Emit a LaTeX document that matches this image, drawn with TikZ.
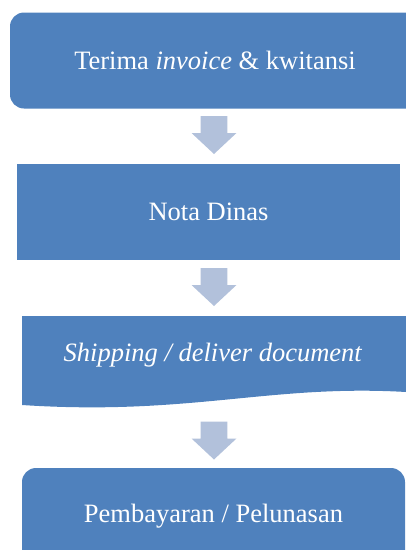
\documentclass[tikz,border=0pt]{standalone}
\usepackage{fontspec}
\setmainfont{Liberation Serif}
\usepackage{xcolor}
\usepackage{tikz}
\usetikzlibrary{positioning, calc}

\definecolor{boxblue}{HTML}{4F81BD}
\definecolor{arrowblue}{HTML}{B2C1DB}

% panah blok ke bawah, berpusat di koordinat #1
\newcommand{\blockarrow}[1]{%
  \fill[arrowblue] ($(#1)+(-13.3,-19)$) -- ($(#1)+(13.3,-19)$) -- ($(#1)+(13.3,-2)$)
    -- ($(#1)+(22.5,-2)$) -- ($(#1)+(0,19)$) -- ($(#1)+(-22.5,-2)$)
    -- ($(#1)+(-13.3,-2)$) -- cycle;}

\begin{document}
\begin{tikzpicture}[
    x=1pt, y=-1pt,
    every node/.style={inner sep=0pt, align=center, text=white, font=\fontsize{26.5}{30}\selectfont},
    stepbox/.style={fill=boxblue, minimum height=96pt},
    roundbox/.style={stepbox, rounded corners=14pt}
]
\useasboundingbox (0,0) rectangle (406,550);

% langkah-langkah
\node[roundbox, minimum width=410pt] (terima) at (215,60.5) {Terima \textit{invoice} \& kwitansi};
\node[stepbox, minimum width=383pt] (nota) at (208.5,212) {Nota Dinas};
\fill[boxblue] (22,316) -- (406,316) -- (406,392)
    .. controls (270,384) and (190,416) .. (22,405) -- cycle;
\node (ship) at (213,355.5) {\textit{Shipping / deliver document}};
\node[roundbox, minimum width=383pt] (bayar) at (213.5,516) {Pembayaran / Pelunasan};

% panah
\coordinate (a1) at (214,135);
\coordinate (a2) at (214,287);
\coordinate (a3) at (214,440.5);
\blockarrow{a1}
\blockarrow{a2}
\blockarrow{a3}
\end{tikzpicture}
\end{document}
